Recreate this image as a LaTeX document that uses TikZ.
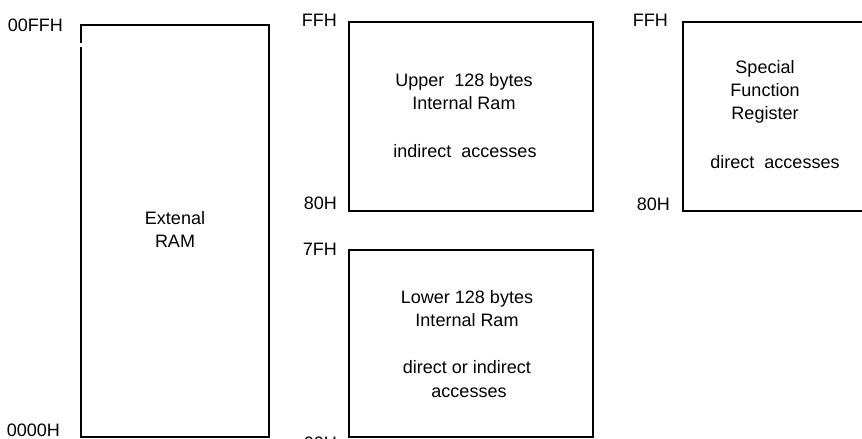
\documentclass[tikz,border=0pt]{standalone}
\usepackage{fontspec}
\setmainfont{Liberation Sans}
\begin{document}
\begin{tikzpicture}[x=1pt,y=-1pt,
  boxline/.style={line width=1.6pt, line join=miter},
  lbl/.style={inner sep=0pt, font=\fontsize{18}{22}\selectfont},
  txt/.style={inner sep=0pt, anchor=base, font=\fontsize{18}{22}\selectfont}]
\useasboundingbox (0,0) rectangle (862,439);
\clip (0,0) rectangle (862,439);
% External RAM box (small gap in left edge)
\draw[boxline] (81,43) -- (81,25) -- (269,25) -- (269,437) -- (81,437) -- (81,47);
% Upper 128 bytes box
\draw[boxline] (349,22) rectangle (593,211);
% Lower 128 bytes box
\draw[boxline] (349,250) rectangle (593,437);
% SFR box (open beyond right edge)
\draw[boxline] (880,22) -- (683,22) -- (683,211) -- (880,211);
% address labels
\node[lbl, anchor=east] (a1) at (63,25) {00FFH};
\node[lbl, anchor=east] (a2) at (60,430) {0000H};
\node[lbl, anchor=east] (a3) at (337,20) {FFH};
\node[lbl, anchor=east] (a4) at (337,203) {80H};
\node[lbl, anchor=east] (a5) at (337,249) {7FH};
\node[lbl, anchor=east] (a6) at (337,443) {00H};
\node[lbl, anchor=east] (a7) at (668,20) {FFH};
\node[lbl, anchor=east] (a8) at (670,204) {80H};
% External RAM text
\node[txt] (e1) at (175,224) {Extenal};
\node[txt] (e2) at (175,247) {RAM};
% Upper text
\node[txt] (u1) at (464,86) {Upper\ \ 128 bytes};
\node[txt] (u2) at (464,109) {Internal Ram};
\node[txt] (u3) at (465,157) {indirect\ \ accesses};
% Lower text
\node[txt] (l1) at (467,303) {Lower 128 bytes};
\node[txt] (l2) at (467,326) {Internal Ram};
\node[txt] (l3) at (467,373) {direct or indirect};
\node[txt] (l4) at (469,397) {accesses};
% SFR text
\node[txt] (s1) at (765,73) {Special};
\node[txt] (s2) at (765,96) {Function};
\node[txt] (s3) at (765,119) {Register};
\node[txt] (s4) at (775,168) {direct\ \ accesses};
\end{tikzpicture}
\end{document}
